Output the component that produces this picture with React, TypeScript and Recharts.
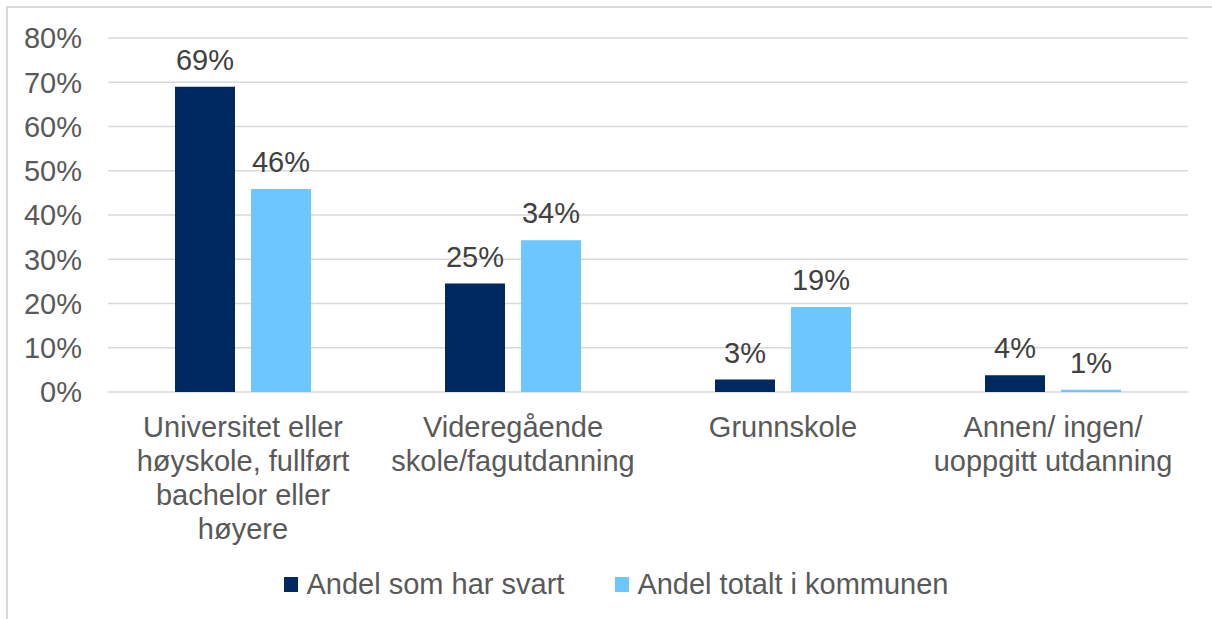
import { BarChart, Bar, XAxis, YAxis, CartesianGrid, Legend, LabelList } from "recharts";

const categories = [
  "Universitet eller\nhøyskole, fullført\nbachelor eller\nhøyere",
  "Videregående\nskole/fagutdanning",
  "Grunnskole",
  "Annen/ ingen/\nuoppgitt utdanning",
];
const answered = [69.0, 24.5, 2.8, 3.8];
const totalInMunicipality = [45.9, 34.3, 19.2, 0.5];
const yTicks = [0, 10, 20, 30, 40, 50, 60, 70, 80];

const seriesNames = ["Andel som har svart", "Andel totalt i kommunen"];
const seriesColors = ["#00295F", "#6CC6FF"];

const data = categories.map((name, i) => ({
  name,
  answered: answered[i],
  total: totalInMunicipality[i],
}));

const FONT = "'Liberation Sans', Arial, sans-serif";
const AXIS_TEXT = "#595959";

function CategoryTick(props: any) {
  const { x, y, payload } = props;
  const lines = String(payload.value).split("\n");
  return (
    <text x={x} y={y} textAnchor="middle" fill={AXIS_TEXT} fontSize={29} fontFamily={FONT}>
      {lines.map((line, i) => (
        <tspan key={i} x={x} dy={i === 0 ? 45 : 34}>
          {line}
        </tspan>
      ))}
    </text>
  );
}

function LegendContent() {
  return (
    <div
      style={{
        display: "flex",
        justifyContent: "center",
        alignItems: "center",
        height: 50,
        paddingLeft: 45,
        fontFamily: FONT,
        fontSize: 29,
        color: AXIS_TEXT,
      }}
    >
      {seriesNames.map((s, i) => (
        <div key={s} style={{ display: "flex", alignItems: "center", marginLeft: i === 0 ? 0 : 51 }}>
          <span style={{ width: 14, height: 15, background: seriesColors[i], marginRight: 8, display: "inline-block" }} />
          <span style={{ lineHeight: "34px" }}>{s}</span>
        </div>
      ))}
    </div>
  );
}

const pct = (v: any) => `${Math.round(Number(v))}%`;

export default function App() {
  return (
    <div
      style={{
        position: "absolute",
        left: 0,
        top: 0,
        width: 1212,
        height: 619,
        overflow: "hidden",
        background: "#fff",
      }}
    >
      <div
        style={{
          position: "absolute",
          left: 6,
          top: 6,
          width: 1300,
          height: 700,
          border: "2px solid #D9D9D9",
        }}
      />
      <div style={{ position: "absolute", left: 0, top: 0 }}>
        <BarChart
          width={1212}
          height={619}
          data={data}
          margin={{ top: 38, right: 24, left: 0, bottom: 10 }}
          barSize={60}
          barGap={16}
          style={{ fontFamily: FONT }}
        >
          <CartesianGrid vertical={false} stroke="#D9D9D9" strokeWidth={1.5} />
          <XAxis
            dataKey="name"
            axisLine={false}
            tickLine={false}
            tickSize={0}
            tickMargin={0}
            height={167}
            interval={0}
            tick={<CategoryTick />}
          />
          <YAxis
            width={108}
            domain={[0, 80]}
            ticks={yTicks}
            tickFormatter={(v) => `${v}%`}
            axisLine={false}
            tickLine={false}
            tickSize={0}
            tickMargin={26}
            tick={{ fill: AXIS_TEXT, fontSize: 29, fontFamily: FONT }}
          />
          <Legend verticalAlign="bottom" height={50} content={<LegendContent />} />
          <Bar dataKey="answered" name={seriesNames[0]} fill={seriesColors[0]} isAnimationActive={false}>
            <LabelList
              dataKey="answered"
              position="top"
              offset={17}
              formatter={pct}
              fill="#404040"
              fontSize={29}
              fontFamily={FONT}
            />
          </Bar>
          <Bar dataKey="total" name={seriesNames[1]} fill={seriesColors[1]} isAnimationActive={false}>
            <LabelList
              dataKey="total"
              position="top"
              offset={17}
              formatter={pct}
              fill="#404040"
              fontSize={29}
              fontFamily={FONT}
            />
          </Bar>
        </BarChart>
      </div>
    </div>
  );
}
